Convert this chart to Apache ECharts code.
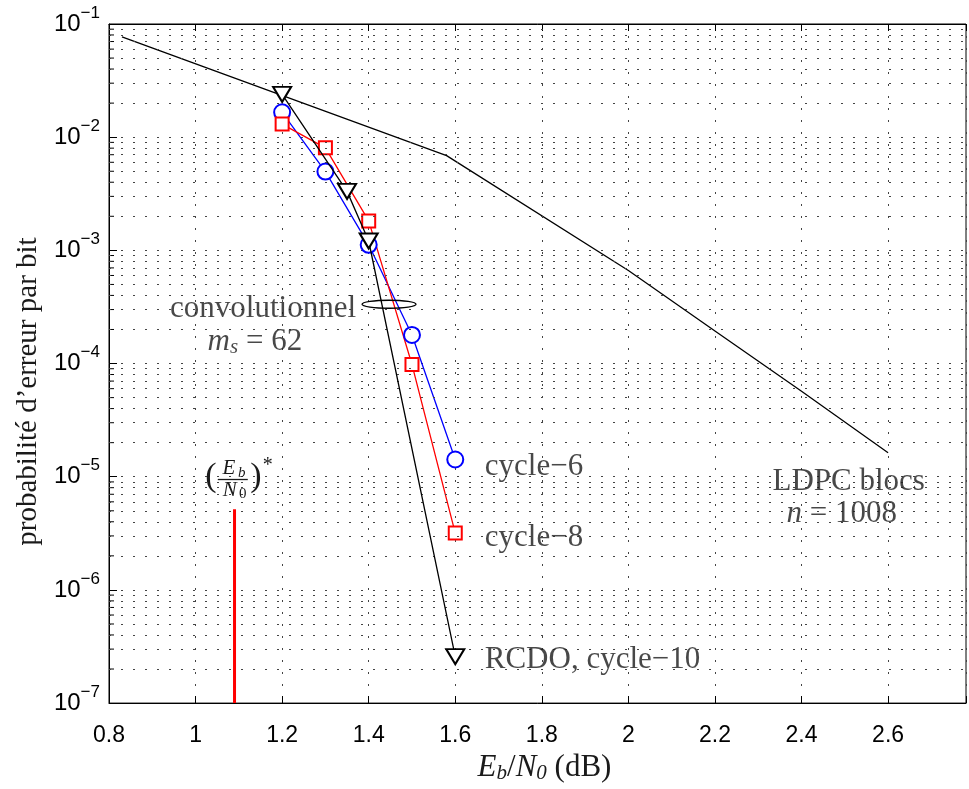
<!DOCTYPE html>
<html>
<head>
<meta charset="utf-8">
<script src="https://cdn.jsdelivr.net/npm/echarts@6/dist/echarts.min.js"></script>
<style>
  html, body { margin: 0; padding: 0; background: #fff; }
  #chart { width: 969px; height: 789px; }
</style>
</head>
<body>
<div id="chart"></div>
<script>
// axes
const xMin = 0.8;
const xMax = 2.78;
const yMin = 1e-7;
const yMax = 1e-1;

// convolutional codes, ms = 62
const ebn0 = [1.2, 1.3, 1.4, 1.5, 1.6];
const cycle6 = [0.0166, 0.00497, 0.00112, 1.79e-4, 1.42e-5];
const cycle8 = [0.01305, 0.00805, 0.00182, 9.8e-5, 3.18e-6];

// RCDO, cycle-10
const rcdoX = [1.2, 1.35, 1.4, 1.6];
const rcdoBer = [0.0239, 0.00332, 0.00121, 2.57e-7];

// LDPC block code n = 1008
const ldpcX = [0.83, 1.58, 2.0, 2.2, 2.4, 2.6];
const ldpcBer = [0.0769, 0.00687, 6.64e-4, 1.94e-4, 5.7e-5, 1.63e-5];

// Shannon limit marker (Eb/N0)*
const limitX = 1.09;
const limitBer = [1e-7, 5.16e-6];
const limitLabelPos = [1.086, 9.45e-6];

// ellipse around the convolutional curves
const ellipsePos = [1.447, 3.34e-4];

// text annotations
const noteText = [
  'convolutionnel',
  '{i|m}{sub|s}{n| = 62}',
  'cycle\u22126',
  'cycle\u22128',
  'RCDO, cycle\u221210',
  'LDPC blocs',
  '{i|n}{n| = 1008}'
];
const noteX = [1.372, 1.137, 1.667, 1.667, 1.667, 2.509, 2.493];
const noteY = [3.34e-4, 1.72e-4, 1.36e-5, 3.18e-6, 2.67e-7, 1.0e-5, 5.16e-6];
const noteSide = ['left', 'inside', 'right', 'right', 'right', 'inside', 'inside'];

// minor log grid (2..9 x 10^k)
const minorGrid = [];
for (let e = -7; e <= -2; e++) {
  for (let m = 2; m <= 9; m++) minorGrid.push(m * Math.pow(10, e));
}

const serif = '"Liberation Serif", "DejaVu Serif", serif';
const sans = '"Liberation Sans", Arial, sans-serif';
const ink = '#1a1a1a';
const dotLine = { color: '#444', width: 1, type: [2, 10] };

const chart = echarts.init(document.getElementById('chart'));

const serifRich = {
  i: { fontFamily: serif, fontStyle: 'italic', fontSize: 31, color: ink },
  sub: { fontFamily: serif, fontStyle: 'italic', fontSize: 21, color: ink, padding: [12, 0, 0, 0] },
  n: { fontFamily: serif, fontSize: 31, color: ink }
};

const option = {
  animation: false,
  backgroundColor: '#fff',
  grid: {
    left: 109,
    right: 1,
    top: 24,
    bottom: 80,
    show: true,
    borderColor: '#000',
    borderWidth: 1,
    backgroundColor: 'transparent'
  },
  xAxis: [
    {
      type: 'value',
      min: xMin,
      max: xMax,
      interval: 0.2,
      position: 'bottom',
      axisLine: { show: true, lineStyle: { color: '#000', width: 1 } },
      axisTick: { show: true, inside: true, length: 7, lineStyle: { color: '#000' } },
      axisLabel: {
        color: '#000',
        fontFamily: sans,
        fontSize: 23,
        margin: 21,
        formatter: (v) => (Math.abs(v - xMax) < 1e-6 ? '' : String(Math.round(v * 10) / 10))
      },
      splitLine: { show: true, lineStyle: dotLine },
      name: '{i|E}{sub|b}{n|/}{i|N}{sub|0}{n| (dB)}',
      nameLocation: 'middle',
      nameGap: 47,
      nameTextStyle: { rich: serifRich, padding: [0, 0, 0, 14] }
    },
    {
      type: 'value',
      min: xMin,
      max: xMax,
      interval: 0.2,
      position: 'top',
      axisLine: { show: true, lineStyle: { color: '#000' } },
      axisTick: { show: true, inside: true, length: 7, lineStyle: { color: '#000' } },
      axisLabel: { show: false },
      splitLine: { show: false }
    }
  ],
  yAxis: {
    type: 'log',
    logBase: 10,
    min: yMin,
    max: yMax,
    splitNumber: 6,
    axisLine: { show: true, lineStyle: { color: '#000', width: 1 } },
    axisTick: { show: true, inside: true, length: 8, lineStyle: { color: '#000' } },
    axisLabel: {
      margin: 9,
      formatter: (v) => {
        const e = Math.round(Math.log10(v));
        return '{b|10}{s|\u2212' + (-e) + '}';
      },
      rich: {
        b: { fontFamily: sans, fontSize: 24, color: '#000' },
        s: { fontFamily: sans, fontSize: 17, color: '#000', padding: [0, 0, 22, 0] }
      }
    },
    splitLine: { show: true, lineStyle: dotLine },
    name: 'probabilit\u00e9 d\u2019erreur par bit',
    nameLocation: 'middle',
    nameGap: 64,
    nameRotate: 90,
    nameTextStyle: { fontFamily: serif, fontSize: 29, color: ink, padding: [0, 56, 0, 0] }
  },
  series: [
    {
      name: 'grid-minor',
      type: 'line',
      data: [],
      silent: true,
      markLine: {
        silent: true,
        precision: 12,
        symbol: ['none', 'none'],
        label: { show: false },
        lineStyle: dotLine,
        data: minorGrid.map((v) => ({ yAxis: v }))
      }
    },
    {
      name: 'minor-ticks',
      type: 'custom',
      silent: true,
      data: minorGrid.map((v) => [xMin, v]),
      renderItem: (params, api) => {
        const p = api.coord([api.value(0), api.value(1)]);
        return {
          type: 'line',
          shape: { x1: p[0], y1: p[1], x2: p[0] + 5, y2: p[1] },
          style: { stroke: '#000', lineWidth: 1 }
        };
      }
    },
    {
      name: 'LDPC',
      type: 'line',
      data: ldpcX.map((x, i) => [x, ldpcBer[i]]),
      showSymbol: false,
      symbol: 'none',
      lineStyle: { color: '#000', width: 1.3 },
      z: 3
    },
    {
      name: 'cycle-6',
      type: 'line',
      data: ebn0.map((x, i) => [x, cycle6[i]]),
      symbol: 'emptyCircle',
      symbolSize: 16,
      lineStyle: { color: '#0000ff', width: 1.3 },
      itemStyle: { color: '#0000ff', borderColor: '#0000ff', borderWidth: 1.3 },
      z: 4
    },
    {
      name: 'cycle-8',
      type: 'line',
      data: ebn0.map((x, i) => [x, cycle8[i]]),
      symbol: 'emptyRect',
      symbolSize: 13,
      lineStyle: { color: '#ff0000', width: 1.3 },
      itemStyle: { color: '#ff0000', borderColor: '#ff0000', borderWidth: 1.3 },
      z: 4
    },
    {
      name: 'RCDO',
      type: 'line',
      data: rcdoX.map((x, i) => [x, rcdoBer[i]]),
      symbol: 'emptyTriangle',
      symbolRotate: 180,
      symbolSize: [18, 15],
      lineStyle: { color: '#000', width: 1.3 },
      itemStyle: { color: '#000', borderColor: '#000', borderWidth: 1.3 },
      z: 5
    },
    {
      name: 'limit',
      type: 'line',
      data: limitBer.map((y) => [limitX, y]),
      symbol: 'none',
      lineStyle: { color: '#ff0000', width: 3 },
      z: 4
    },
    {
      name: 'ellipse',
      type: 'custom',
      silent: true,
      data: [ellipsePos],
      z: 6,
      renderItem: (params, api) => {
        const p = api.coord([api.value(0), api.value(1)]);
        return {
          type: 'ellipse',
          shape: { cx: p[0], cy: p[1], rx: 27, ry: 4 },
          style: { fill: null, stroke: '#000', lineWidth: 1.3 }
        };
      }
    },
    {
      name: 'limit-label',
      type: 'custom',
      silent: true,
      data: [limitLabelPos],
      z: 6,
      renderItem: (params, api) => {
        const p = api.coord([api.value(0), api.value(1)]);
        const it = 'italic 21px ' + serif;
        const sm = 'italic 15px ' + serif;
        const txt = (text, x, y, font, align) => ({
          type: 'text',
          style: { text, x, y, font, fill: ink, align: align || 'center', verticalAlign: 'middle' }
        });
        return {
          type: 'group',
          x: p[0],
          y: p[1],
          children: [
            txt('(', -22, -2, '34px ' + serif),
            txt('E', -4, -11, it),
            txt('b', 9, -6, sm),
            {
              type: 'line',
              shape: { x1: -15, y1: 0, x2: 15, y2: 0 },
              style: { stroke: ink, lineWidth: 1.3 }
            },
            txt('N', -3, 11, it),
            txt('0', 10, 15, '15px ' + serif),
            txt(')', 23, -2, '34px ' + serif),
            txt('*', 35, -14, '20px ' + serif)
          ]
        };
      }
    },
    {
      name: 'notes',
      type: 'scatter',
      silent: true,
      symbolSize: 1,
      itemStyle: { color: 'rgba(0,0,0,0)' },
      z: 6,
      data: noteText.map((t, i) => ({
        value: [noteX[i], noteY[i]],
        label: {
          show: true,
          position: noteSide[i],
          distance: 0,
          offset: [0, 5],
          formatter: t,
          fontFamily: serif,
          fontSize: 31,
          color: ink,
          textBorderWidth: 0,
          rich: serifRich
        }
      }))
    }
  ]
};

chart.setOption(option);
</script>
</body>
</html>
